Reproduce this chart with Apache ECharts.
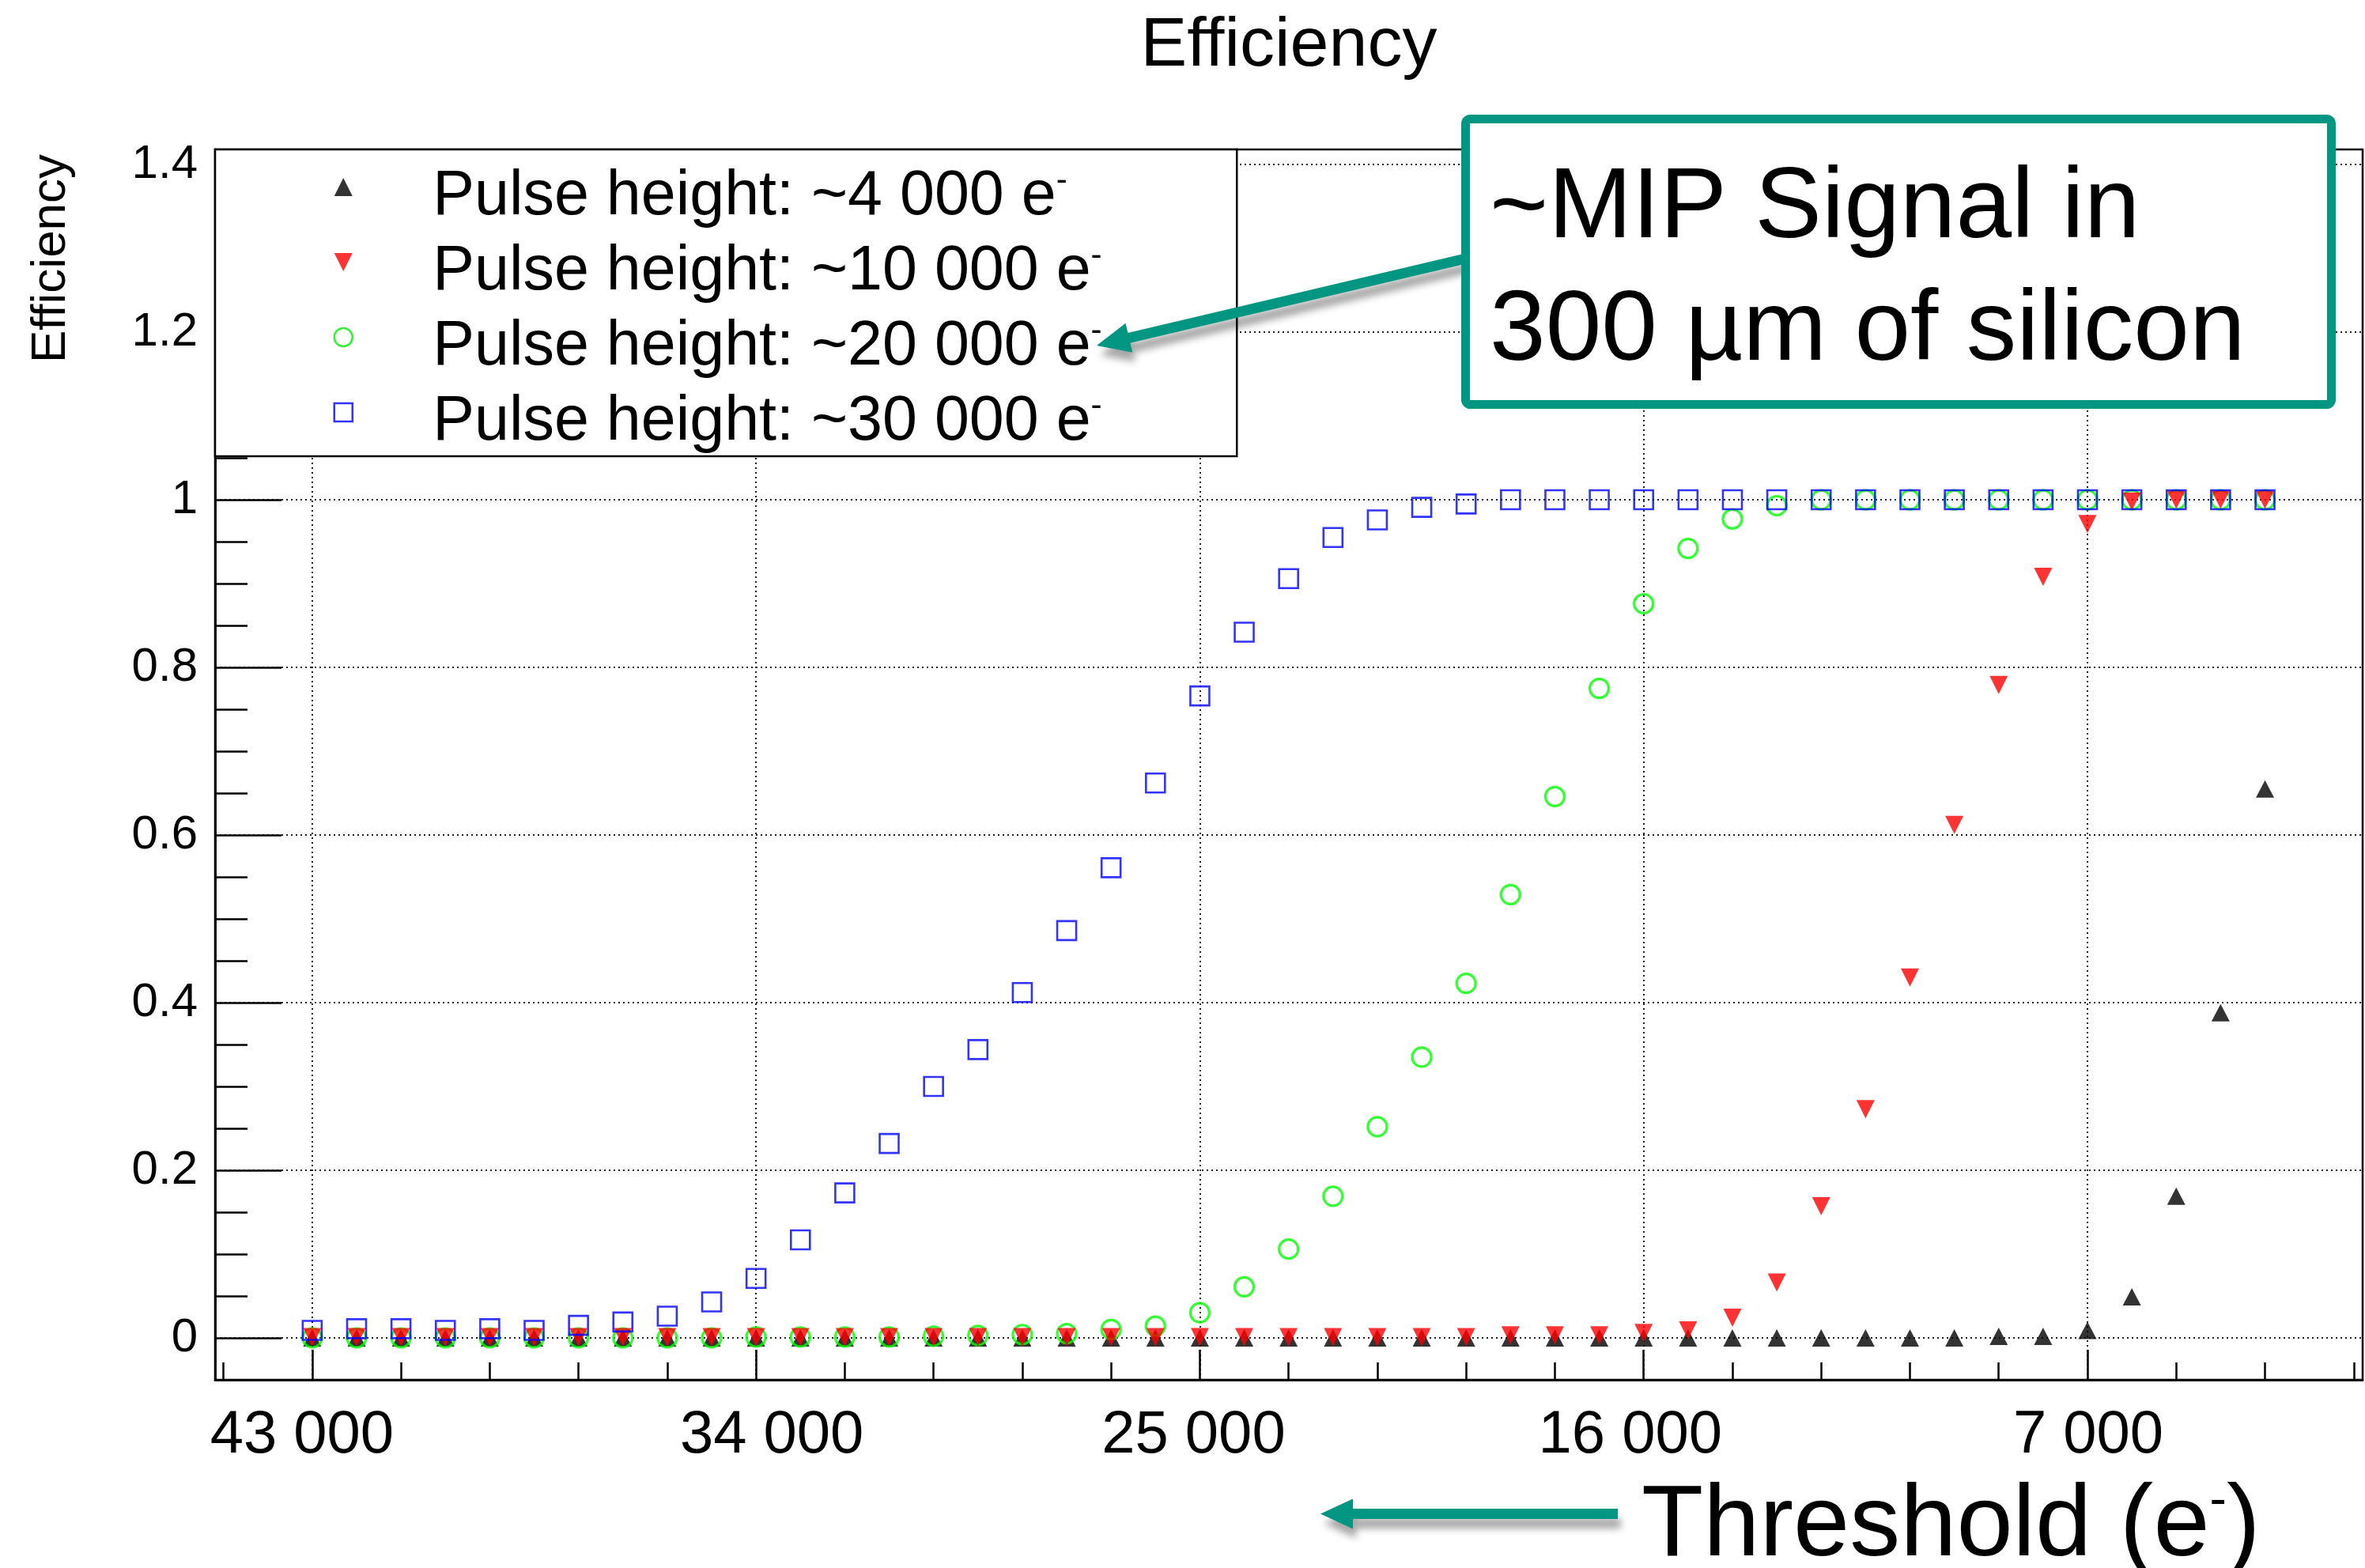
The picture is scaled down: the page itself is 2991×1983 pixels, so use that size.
<!DOCTYPE html>
<html>
<head>
<meta charset="utf-8">
<script src="https://cdn.jsdelivr.net/npm/echarts@6/dist/echarts.min.js"></script>
<style>html,body{margin:0;padding:0;background:#fff;}#chart{width:2991px;height:1983px;}</style>
</head>
<body>
<div id="chart"></div>
<script>
// Threshold values (e-) of the scan points
const thresholds = [43000, 42100, 41200, 40300, 39400, 38500, 37600, 36700, 35800, 34900,
  34000, 33100, 32200, 31300, 30400, 29500, 28600, 27700, 26800, 25900,
  25000, 24100, 23200, 22300, 21400, 20500, 19600, 18700, 17800, 16900,
  16000, 15100, 14200, 13300, 12400, 11500, 10600, 9700, 8800, 7900,
  7000, 6100, 5200, 4300, 3400];

// Efficiency for each injected pulse height
const eff4000 = [0, 0, 0, 0, 0, 0, 0, 0, 0, 0,
  0, 0, 0, 0, 0, 0, 0, 0, 0, 0,
  0, 0, 0, 0, 0, 0, 0, 0, 0, 0,
  0, 0, 0, 0, 0, 0, 0, 0, 0.002, 0.002,
  0.009, 0.049, 0.169, 0.388, 0.655];
const eff10000 = [0.001, 0.001, 0.001, 0.001, 0.001, 0.001, 0.001, 0.001, 0.001, 0.001,
  0.001, 0.001, 0.001, 0.001, 0.001, 0.001, 0.001, 0.001, 0.001, 0.001,
  0.001, 0.001, 0.001, 0.001, 0.001, 0.001, 0.001, 0.003, 0.003, 0.003,
  0.006, 0.009, 0.024, 0.066, 0.157, 0.273, 0.430, 0.612, 0.779, 0.908,
  0.971, 0.998, 1.0, 1.0, 1.0];
const eff20000 = [0, 0, 0, 0, 0, 0, 0, 0, 0, 0,
  0.001, 0.001, 0.001, 0.001, 0.002, 0.003, 0.004, 0.005, 0.010, 0.014,
  0.030, 0.061, 0.106, 0.169, 0.252, 0.335, 0.423, 0.529, 0.646, 0.775,
  0.876, 0.942, 0.977, 0.993, 1.0, 1.0, 1.0, 1.0, 1.0, 1.0,
  1.0, 1.0, 1.0, 1.0, 1.0];
const eff30000 = [0.009, 0.011, 0.011, 0.009, 0.011, 0.009, 0.015, 0.019, 0.026, 0.043,
  0.071, 0.117, 0.173, 0.232, 0.300, 0.344, 0.412, 0.486, 0.561, 0.662,
  0.766, 0.842, 0.906, 0.955, 0.976, 0.991, 0.995, 1.0, 1.0, 1.0,
  1.0, 1.0, 1.0, 1.0, 1.0, 1.0, 1.0, 1.0, 1.0, 1.0,
  1.0, 1.0, 1.0, 1.0, 1.0];

const seriesNames = ['Pulse height: ~4 000 e', 'Pulse height: ~10 000 e',
  'Pulse height: ~20 000 e', 'Pulse height: ~30 000 e'];

// Axis ticks
const xMajorTicks = [43000, 34000, 25000, 16000, 7000];
const xMinorTicks = [44800, 43000, 41200, 39400, 37600, 35800, 34000, 32200, 30400, 28600,
  26800, 25000, 23200, 21400, 19600, 17800, 16000, 14200, 12400, 10600, 8800, 7000, 5200, 3400, 1600];
const yMajorTicks = [0, 0.2, 0.4, 0.6, 0.8, 1, 1.2, 1.4];
const yMinorTicks = [-0.05, 0, 0.05, 0.1, 0.15, 0.2, 0.25, 0.3, 0.35, 0.4, 0.45, 0.5, 0.55, 0.6,
  0.65, 0.7, 0.75, 0.8, 0.85, 0.9, 0.95, 1, 1.05, 1.1, 1.15, 1.2, 1.25, 1.3, 1.35, 1.4];

const FONT = '"Liberation Sans", Arial, Helvetica, sans-serif';
const TEAL = '#009682';
const INV_TRI = 'path://M0,0L2,0L1,2Z';
const UP_TRI = 'path://M1,0L2,2L0,2Z';
const SQUARE = 'path://M0,0L2,0L2,2L0,2Z';

// distance from the 'middle' text line down to the alphabetic baseline
function baseOff(fs) {
  const c = document.createElement('canvas').getContext('2d');
  c.font = fs + 'px "Liberation Sans"';
  c.textBaseline = 'alphabetic';
  const a = c.measureText('H').actualBoundingBoxAscent;
  c.textBaseline = 'middle';
  const b = c.measureText('H').actualBoundingBoxAscent;
  const d = a - b;
  return (isFinite(d) && d > 0 && d < fs) ? d : 0.3 * fs;
}

function pairs(ys) { return thresholds.map((t, i) => [t, ys[i]]); }
function spaced(v) { return String(Math.round(v)).replace(/\B(?=(\d{3})+(?!\d))/g, ' '); }

// per-label horizontal nudges of the tick labels (as placed in the original)
const xLabelShift = { 43000: -13, 34000: 20, 25000: -8, 16000: -17, 7000: 1 };
const xRich = {};
xMajorTicks.forEach((v, i) => {
  const s = xLabelShift[v];
  xRich['t' + i] = { fontSize: 76, fontFamily: FONT, color: '#000',
    padding: s >= 0 ? [0, 0, 0, 2 * s] : [0, -2 * s, 0, 0] };
});

function arrowPoints(tail, tip, sh, hl, hh) {
  const dx = tip[0] - tail[0], dy = tip[1] - tail[1];
  const L = Math.hypot(dx, dy), ux = dx / L, uy = dy / L, nx = -uy, ny = ux;
  const bx = tip[0] - ux * hl, by = tip[1] - uy * hl;
  return [
    [tail[0] + nx * sh, tail[1] + ny * sh], [bx + nx * sh, by + ny * sh], [bx + nx * hh, by + ny * hh],
    [tip[0], tip[1]],
    [bx - nx * hh, by - ny * hh], [bx - nx * sh, by - ny * sh], [tail[0] - nx * sh, tail[1] - ny * sh]
  ];
}

// text metrics
const off88 = baseOff(88), off62 = baseOff(62), off127 = baseOff(127), off128 = baseOff(128), off79 = baseOff(79);
// legend rows: icon centre 237, text baseline 271 -> move text down by legShift
const legShift = Math.max(0, Math.min(22, 34 - off79));
const legSupB = Math.max(0, 2 * (41 - legShift - off79));
const legItemH = 47.5 + Math.max(47.5, legShift + 39.5);   // bounding height of one legend row
const legGap = 95 - legItemH;                               // keep a 95 px row pitch
const legPadB = Math.max(0, 103 - legItemH);
const thrSupLH = Math.max(10, 2 * (off128 + 1));

const xBase = {
  type: 'value', min: 1420, max: 44970, inverse: true, position: 'bottom',
  axisLine: { show: true, onZero: false, lineStyle: { color: '#000', width: 2.5 } }
};
const yBase = {
  type: 'value', min: -0.05, max: 1.418, position: 'left',
  axisLine: { show: true, onZero: false, lineStyle: { color: '#000', width: 2.5 } }
};
const dotted = { color: '#222', width: 2, type: [2, 4] };

const chart = echarts.init(document.getElementById('chart'), null, { renderer: 'canvas' });
chart.setOption({
  animation: false,
  backgroundColor: '#fff',
  grid: { left: 272, right: 3, top: 189, bottom: 238, show: true, borderColor: '#000', borderWidth: 2.5, backgroundColor: 'transparent' },
  xAxis: [
    Object.assign({}, xBase, {
      axisTick: { show: true, inside: true, length: 38, customValues: xMajorTicks, lineStyle: { color: '#000', width: 2.5 } },
      axisLabel: { show: true, customValues: xMajorTicks,
        formatter: v => { const i = xMajorTicks.indexOf(Math.round(v)); return i >= 0 ? '{t' + i + '|' + spaced(v) + '}' : spaced(v); },
        rich: xRich, fontSize: 76, fontFamily: FONT, color: '#000', margin: 33 },
      splitLine: { show: true, lineStyle: dotted }
    }),
    Object.assign({}, xBase, {
      axisTick: { show: true, inside: true, length: 22, customValues: xMinorTicks, lineStyle: { color: '#000', width: 2.5 } },
      axisLabel: { show: false },
      splitLine: { show: false }
    })
  ],
  yAxis: [
    Object.assign({}, yBase, {
      axisTick: { show: true, inside: true, length: 84, customValues: yMajorTicks, lineStyle: { color: '#000', width: 2.5 } },
      axisLabel: { show: true, customValues: yMajorTicks, formatter: v => String(Math.round(v * 10) / 10), fontSize: 60, fontFamily: FONT, color: '#000', margin: 22 },
      splitLine: { show: true, lineStyle: dotted }
    }),
    Object.assign({}, yBase, {
      axisTick: { show: true, inside: true, length: 41, customValues: yMinorTicks, lineStyle: { color: '#000', width: 2.5 } },
      axisLabel: { show: false },
      splitLine: { show: false }
    })
  ],
  legend: {
    data: [
      { name: seriesNames[0], icon: UP_TRI, itemStyle: { color: '#000', borderWidth: 0 } },
      { name: seriesNames[1], icon: INV_TRI, itemStyle: { color: '#ff0000', borderWidth: 0 } },
      { name: seriesNames[2], icon: 'circle', itemStyle: { color: 'rgba(0,0,0,0)', borderColor: '#00ee00', borderWidth: 2.5 } },
      { name: seriesNames[3], icon: SQUARE, itemStyle: { color: 'rgba(0,0,0,0)', borderColor: '#0000ff', borderWidth: 2.5 } }
    ],
    orient: 'vertical', left: 272, top: 189,
    padding: [0, 17, legPadB, 149.5],
    itemWidth: 216, itemHeight: 23, itemGap: legGap,
    symbolKeepAspect: true,
    backgroundColor: '#fff', borderColor: '#000', borderWidth: 2.5,
    selectedMode: false,
    formatter: n => '{m|' + n + '}{s|-}',
    textStyle: {
      fontFamily: FONT, fontSize: 79, color: '#000', lineHeight: 95, width: 1000,
      rich: {
        m: { fontFamily: FONT, fontSize: 79, lineHeight: 95, height: 36, padding: [2 * legShift, 0, 0, 0], color: '#000' },
        s: { fontFamily: FONT, fontSize: 42, lineHeight: 95, height: 24, padding: [0, 0, legSupB, 0], color: '#000' }
      }
    }
  },
  series: [
    { name: seriesNames[0], type: 'scatter', data: pairs(eff4000), symbol: 'triangle', symbolSize: [23, 22],
      itemStyle: { color: '#000' }, emphasis: { disabled: true } },
    { name: seriesNames[2], type: 'scatter', data: pairs(eff20000), symbol: 'circle', symbolSize: 24,
      itemStyle: { color: 'rgba(0,0,0,0)', borderColor: '#00ff00', borderWidth: 3.2 }, emphasis: { disabled: true } },
    { name: seriesNames[1], type: 'scatter', data: pairs(eff10000), symbol: INV_TRI, symbolSize: [23, 23],
      itemStyle: { color: '#ff0000' }, emphasis: { disabled: true } },
    { name: seriesNames[3], type: 'scatter', data: pairs(eff30000), symbol: 'rect', symbolSize: 24,
      itemStyle: { color: 'rgba(0,0,0,0)', borderColor: '#0000ff', borderWidth: 2.6 }, emphasis: { disabled: true } }
  ],
  graphic: [
    { type: 'text', x: 1630, y: 83 - off88, z: 50,
      style: { text: 'Efficiency', fontSize: 88, fontFamily: FONT, fill: '#000', align: 'center', verticalAlign: 'middle' } },
    { type: 'text', x: 82 - off62, y: 327, rotation: Math.PI / 2, z: 50,
      style: { text: 'Efficiency', fontSize: 62, fontFamily: FONT, fill: '#000', align: 'center', verticalAlign: 'middle' } },
    { type: 'polygon', z: 60,
      shape: { points: arrowPoints([1862, 325], [1387, 437], 6.5, 42, 19) },
      style: { fill: TEAL, shadowBlur: 10, shadowColor: 'rgba(0,0,0,0.35)', shadowOffsetX: 4, shadowOffsetY: 12 } },
    { type: 'rect', z: 70,
      shape: { x: 1853.5, y: 150.5, width: 1095, height: 361, r: 6 },
      style: { fill: '#fff', stroke: TEAL, lineWidth: 11 } },
    { type: 'text', x: 1884, y: 300 - off127, z: 80,
      style: { text: '~MIP Signal in', fontSize: 127, fontFamily: FONT, fill: '#000', align: 'left', verticalAlign: 'middle' } },
    { type: 'text', x: 1884, y: 455 - off127, z: 80,
      style: { text: '300 µm of silicon', fontSize: 127, fontFamily: FONT, fill: '#000', align: 'left', verticalAlign: 'middle' } },
    { type: 'polygon', z: 60,
      shape: { points: arrowPoints([2046, 1914.5], [1670, 1914.5], 6.5, 41, 19) },
      style: { fill: TEAL, shadowBlur: 10, shadowColor: 'rgba(0,0,0,0.35)', shadowOffsetX: 4, shadowOffsetY: 12 } },
    { type: 'text', x: 2076, y: 1967 - off128, z: 80,
      style: {
        text: '{a|Threshold (e}{s|-}{a|)}', fontFamily: FONT, fontSize: 128, fill: '#000', align: 'left', verticalAlign: 'middle',
        rich: {
          a: { fontFamily: FONT, fontSize: 128, lineHeight: 128, fill: '#000' },
          s: { fontFamily: FONT, fontSize: 64, lineHeight: thrSupLH, verticalAlign: 'top', fill: '#000' }
        }
      } }
  ]
});
</script>
</body>
</html>
